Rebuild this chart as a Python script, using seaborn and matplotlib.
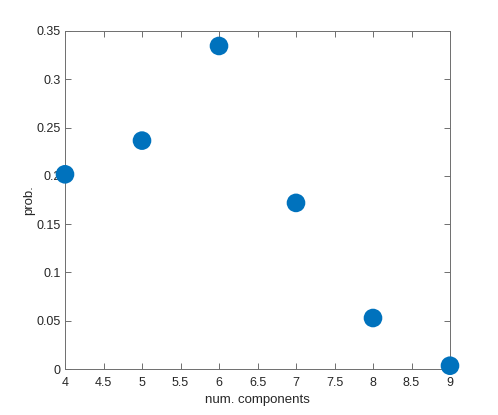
import matplotlib
matplotlib.use('Agg')
import matplotlib.pyplot as plt
import matplotlib.ticker as mticker
import seaborn as sns
import pandas as pd

# data
num_components = [4, 5, 6, 7, 8, 9]
prob = [0.2016, 0.2365, 0.3345, 0.1720, 0.0528, 0.0034]

df = pd.DataFrame({'num. components': num_components, 'prob.': prob})

sns.set_style('white')
plt.rcParams['font.family'] = ['Liberation Sans', 'DejaVu Sans']

fig = plt.figure(figsize=(4.98, 4.15), dpi=100)
ax = fig.add_axes([65/498, 46/415, 385/498, 338/415])

sns.scatterplot(data=df, x='num. components', y='prob.', ax=ax,
                s=180, color='#0072BD', edgecolor='none', clip_on=False, zorder=3)

ax.set_xlim(4, 9)
ax.set_ylim(0, 0.35)
ax.xaxis.set_major_locator(mticker.MultipleLocator(0.5))
ax.yaxis.set_major_locator(mticker.MultipleLocator(0.05))
fmt = mticker.FuncFormatter(lambda v, p: '%g' % round(v, 3))
ax.xaxis.set_major_formatter(fmt)
ax.yaxis.set_major_formatter(fmt)

axis_col = '#6e6e6e'
text_col = '#262626'
for sp in ax.spines.values():
    sp.set_visible(True)
    sp.set_color(axis_col)
    sp.set_linewidth(0.7)
ax.tick_params(direction='in', length=4, width=0.7, color=axis_col,
               labelsize=9, labelcolor=text_col, top=True, right=True,
               bottom=True, left=True, pad=3)
ax.tick_params(axis='x', pad=6)
ax.set_xlabel('num. components', fontsize=9.5, color=text_col, labelpad=3)
ax.set_ylabel('prob.', fontsize=9.5, color=text_col, labelpad=1)

fig.savefig('out.png', dpi=100)
